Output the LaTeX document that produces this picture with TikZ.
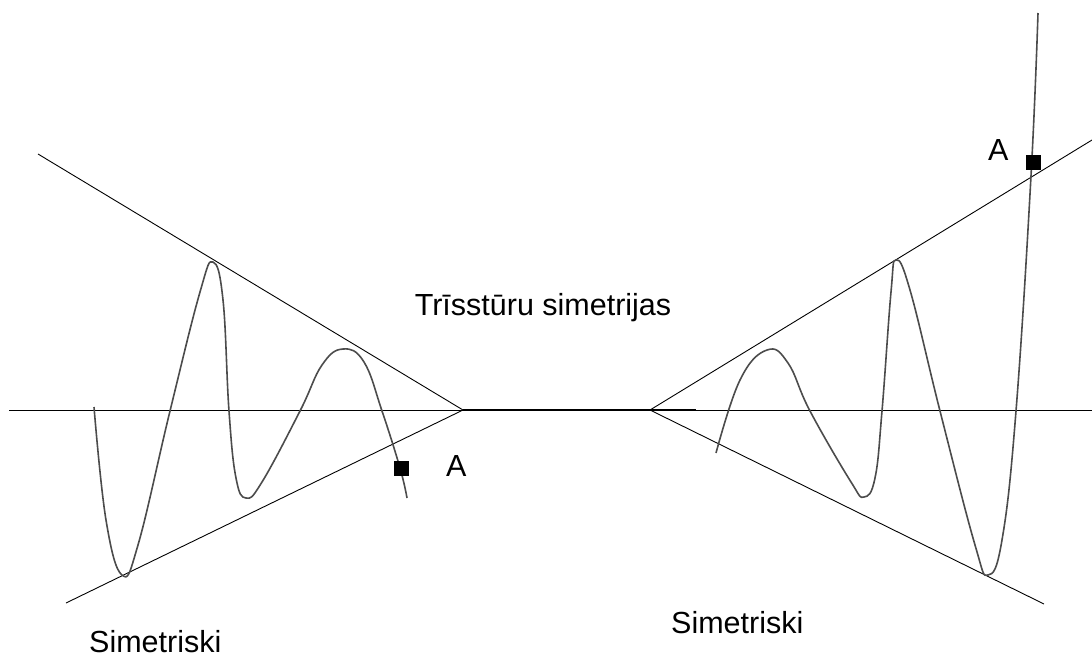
\documentclass[tikz,border=0pt]{standalone}
\usepackage{fontspec}
\setmainfont{Liberation Sans}
\usepackage{tikz}
\usetikzlibrary{positioning}

\begin{document}
\begin{tikzpicture}[x=1pt,y=-1pt,line join=round,
  every node/.style={font=\fontsize{30.5}{36}\selectfont,inner sep=0pt},
  axis/.style={black,line width=0.9pt},
  wave/.style={black!70,line width=1.6pt},
  pt/.style={fill=black,minimum size=15pt}]
\useasboundingbox (0,0) rectangle (1092,657);
\coordinate (la) at (463,410); \coordinate (ra) at (650,410);
\coordinate (lu) at (38,154); \coordinate (ll) at (66,603);
\coordinate (ru) at (1092,140); \coordinate (rl) at (1044,604);
\draw[axis] (9,410) -- (la); \draw[axis] (696,410) -- (1092,410);
\draw[axis,line width=1.8pt] (la) -- (ra) -- (696,410);
\draw[axis] (lu) -- (la) -- (ll);
\draw[axis] (ru) -- (ra) -- (rl);
\draw[wave] plot[smooth,tension=0.7] coordinates {(94,407) (106,520) (122,575) (138,545) (170,411) (200,292) (213,262) (223,300) (229,411) (236,478) (246,498) (262,482) (300,411) (322,365) (343,349) (364,362) (382,411) (400,468) (407,498)};
\draw[wave] plot[smooth,tension=0.7] coordinates {(716,453) (740,380) (767,350) (788,363) (810,411) (851,482) (864,497) (875,478) (882,411) (891,292) (896,260) (910,290) (940,411) (975,545) (988,575) (1002,540) (1016,411) (1031,176) (1038,13)};
\node[pt] (pa) at (401,468) {};
\node[pt] (pb) at (1033,162) {};
\node[anchor=base west] (la1) at (446,476) {A};
\node[anchor=base west] (lb1) at (988,160) {A};
\node[anchor=base] (title) at (543,315) {Trīsstūru simetrijas};
\node[anchor=base west] (sl) at (89,652) {Simetriski};
\node[anchor=base west] (sr) at (671,633) {Simetriski};
\end{tikzpicture}
\end{document}
